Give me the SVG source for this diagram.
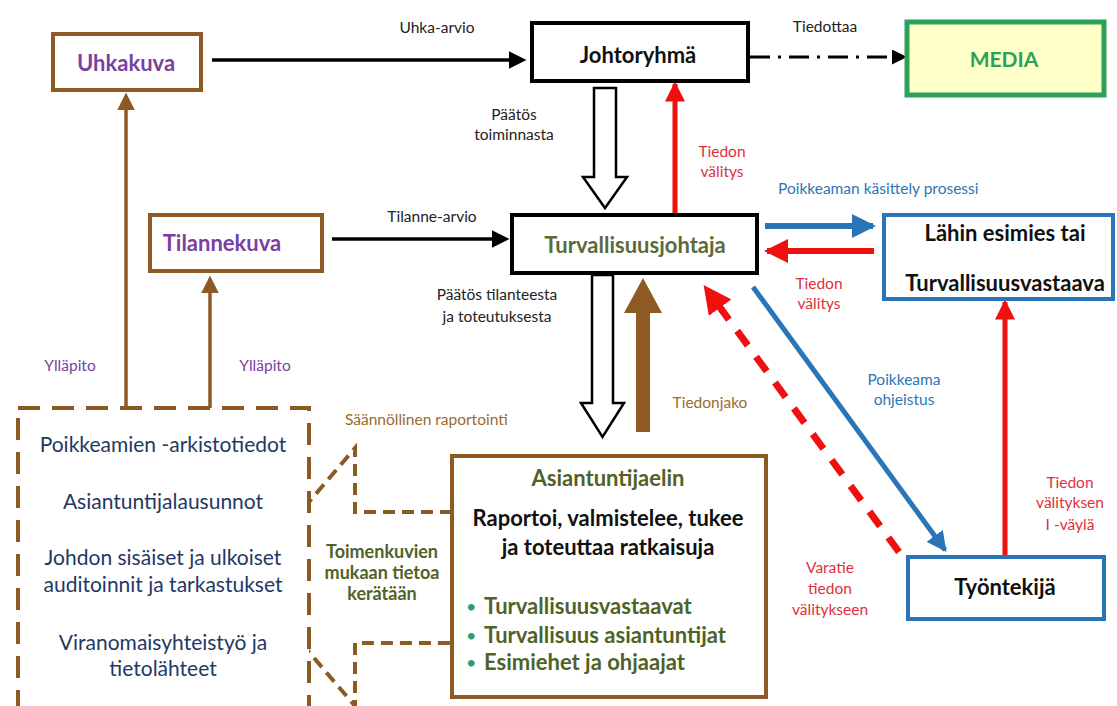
<svg xmlns="http://www.w3.org/2000/svg" width="1117" height="706" viewBox="0 0 1117 706">
<defs>
<style>
text{font-family:Lato,"Liberation Sans",sans-serif;}
.lbl{font-size:15.5px;fill:#222;}
.nb{font-weight:bold;text-anchor:middle;font-size:22px;}
.c{text-anchor:middle;}
.red{fill:#E0303A;}
.blue{fill:#2E75B6;}
.brn{fill:#9C6A2E;}
.pur{fill:#7A3FA0;font-size:15.5px;}
.navy{fill:#1F3864;font-size:21px;text-anchor:middle;}
.olive{fill:#4F6228;}
.box{fill:#fff;stroke-width:4;}
</style>
<marker id="mBlack" markerWidth="5" markerHeight="5" refX="4" refY="2.5" orient="auto" markerUnits="strokeWidth"><path d="M0,0 L5,2.5 L0,5 z" fill="#000"/></marker>
<marker id="mRed" markerWidth="4" markerHeight="4" refX="3.5" refY="2" orient="auto" markerUnits="strokeWidth"><path d="M0,0 L4,2 L0,4 z" fill="#F01010"/></marker>
<marker id="mRedD" markerWidth="4" markerHeight="4" refX="1" refY="2" orient="auto" markerUnits="strokeWidth"><path d="M0,0 L4,2 L0,4 z" fill="#F01010"/></marker>
<marker id="mBlue" markerWidth="4" markerHeight="4" refX="3.5" refY="2" orient="auto" markerUnits="strokeWidth"><path d="M0,0 L4,2 L0,4 z" fill="#2A74B8"/></marker>
<marker id="mBrown" markerWidth="5" markerHeight="5" refX="4" refY="2.5" orient="auto" markerUnits="strokeWidth"><path d="M0,0 L5,2.5 L0,5 z" fill="#8E5A24"/></marker>
</defs>
<rect width="1117" height="706" fill="#fff"/>

<g id="connectors">
  <path d="M452,512 H355 V448 L245,577 L355,706 V643 H452" fill="#fff" stroke="#8E5A24" stroke-width="4" stroke-dasharray="12 7"/>
  <line x1="212" y1="60" x2="523" y2="60" stroke="#000" stroke-width="3.5" marker-end="url(#mBlack)"/>
  <line x1="332" y1="239" x2="506" y2="239" stroke="#000" stroke-width="3.5" marker-end="url(#mBlack)"/>
  <line x1="750" y1="57" x2="904" y2="57" stroke="#000" stroke-width="3" stroke-dasharray="20 8 3 8" marker-end="url(#mBlack)"/>
  <path d="M594,88 H616 V177 H627 L605,208 L583,177 H594 Z" fill="#fff" stroke="#000" stroke-width="2.5"/>
  <path d="M592,275 H613 V403 H624 L602.5,437 L581,403 H592 Z" fill="#fff" stroke="#000" stroke-width="2.5"/>
  <path d="M636,432 V313 H624 L643,278 L662,313 H650 V432 Z" fill="#8E5A24"/>
  <line x1="675" y1="215" x2="675" y2="84" stroke="#F01010" stroke-width="5" marker-end="url(#mRed)"/>
  <line x1="765" y1="226" x2="873" y2="226" stroke="#2A74B8" stroke-width="6" marker-end="url(#mBlue)"/>
  <line x1="874" y1="251" x2="767" y2="251" stroke="#F01010" stroke-width="6" marker-end="url(#mRed)"/>
  <line x1="753" y1="287" x2="945" y2="550" stroke="#2A74B8" stroke-width="5" marker-end="url(#mBlue)"/>
  <line x1="899" y1="552" x2="716" y2="302" stroke="#F01010" stroke-width="7" stroke-dasharray="18 14" marker-end="url(#mRedD)"/>
  <line x1="1005" y1="557" x2="1005" y2="302" stroke="#F01010" stroke-width="5" marker-end="url(#mRed)"/>
  <line x1="126" y1="408" x2="126" y2="96" stroke="#8E5A24" stroke-width="3.5" marker-end="url(#mBrown)"/>
  <line x1="210" y1="408" x2="210" y2="279" stroke="#8E5A24" stroke-width="3.5" marker-end="url(#mBrown)"/>
</g>

<g id="sources">
  <rect x="18" y="408" width="291" height="320" fill="#fff" stroke="#8E5A24" stroke-width="4" stroke-dasharray="22 12"/>
  <text class="navy" x="163" y="452">Poikkeamien -arkistotiedot</text>
  <text class="navy" x="163" y="509">Asiantuntijalausunnot</text>
  <text class="navy" x="163" y="565">Johdon sisäiset ja ulkoiset</text>
  <text class="navy" x="163" y="592">auditoinnit ja tarkastukset</text>
  <text class="navy" x="163" y="650">Viranomaisyhteistyö ja</text>
  <text class="navy" x="163" y="676">tietolähteet</text>
</g>

<g id="uhkakuva">
  <rect class="box" x="53" y="34" width="148" height="56" stroke="#8E5A24"/>
  <text class="nb" x="126" y="71" fill="#7A3FA0">Uhkakuva</text>
</g>
<g id="tilannekuva">
  <rect class="box" x="150" y="215" width="172" height="56" stroke="#8E5A24"/>
  <text class="nb" x="222" y="251" fill="#7A3FA0">Tilannekuva</text>
</g>
<g id="johtoryhma">
  <rect class="box" x="532" y="23" width="216" height="58" stroke="#000"/>
  <text class="nb" x="638" y="63" fill="#111">Johtoryhmä</text>
</g>
<g id="media">
  <rect x="907" y="22" width="197" height="73" fill="#FFFFC8" stroke="#2DA158" stroke-width="5"/>
  <text class="nb" x="1004" y="67" fill="#2DA158" style="font-size:21px">MEDIA</text>
</g>
<g id="turvallisuusjohtaja">
  <rect class="box" x="512" y="215" width="245" height="58" stroke="#000"/>
  <text class="nb" x="635" y="253" fill="#5A6B3A">Turvallisuusjohtaja</text>
</g>
<g id="lahin">
  <rect class="box" x="884" y="215" width="229" height="84" stroke="#2A74B8"/>
  <text class="nb" x="1005" y="241" fill="#111">Lähin esimies tai</text>
  <text class="nb" x="1005" y="291" fill="#111">Turvallisuusvastaava</text>
</g>
<g id="asiantuntijaelin">
  <rect class="box" x="452" y="456" width="314" height="241" stroke="#8E5A24"/>
  <text class="nb olive" x="608" y="486">Asiantuntijaelin</text>
  <text class="nb" x="608" y="526" fill="#111">Raportoi, valmistelee, tukee</text>
  <text class="nb" x="608" y="555" fill="#111">ja toteuttaa ratkaisuja</text>
  <text x="466" y="613" font-size="18" fill="#2E9E6E">•</text>
  <text x="484" y="614" font-size="22" font-weight="bold" class="olive">Turvallisuusvastaavat</text>
  <text x="466" y="642" font-size="18" fill="#2E9E6E">•</text>
  <text x="484" y="643" font-size="22" font-weight="bold" class="olive">Turvallisuus asiantuntijat</text>
  <text x="466" y="669" font-size="18" fill="#2E9E6E">•</text>
  <text x="484" y="670" font-size="22" font-weight="bold" class="olive">Esimiehet ja ohjaajat</text>
</g>
<g id="tyontekija">
  <rect class="box" x="908" y="557" width="196" height="62" stroke="#2A74B8"/>
  <text class="nb" x="1005" y="595" fill="#111">Työntekijä</text>
</g>

<g id="labels">
  <text class="lbl c" x="437" y="33">Uhka-arvio</text>
  <text class="lbl c" x="825" y="32">Tiedottaa</text>
  <text class="lbl c" x="514" y="120">Päätös</text>
  <text class="lbl c" x="514" y="140">toiminnasta</text>
  <text class="lbl c red" x="722" y="157">Tiedon</text>
  <text class="lbl c red" x="722" y="177">välitys</text>
  <text class="lbl blue" x="778" y="194">Poikkeaman käsittely prosessi</text>
  <text class="lbl c" x="432" y="222">Tilanne-arvio</text>
  <text class="lbl c red" x="819" y="289">Tiedon</text>
  <text class="lbl c red" x="819" y="309">välitys</text>
  <text class="lbl c" x="497" y="300">Päätös tilanteesta</text>
  <text class="lbl c" x="497" y="322">ja toteutuksesta</text>
  <text class="pur c" x="70" y="371">Ylläpito</text>
  <text class="pur c" x="265" y="371">Ylläpito</text>
  <text class="lbl brn" x="345" y="425">Säännöllinen raportointi</text>
  <text class="lbl brn c" x="710" y="408">Tiedonjako</text>
  <text class="lbl c blue" x="904" y="385">Poikkeama</text>
  <text class="lbl c blue" x="904" y="405">ohjeistus</text>
  <text class="lbl c red" x="1070" y="488">Tiedon</text>
  <text class="lbl c red" x="1070" y="508">välityksen</text>
  <text class="lbl c red" x="1070" y="530">I -väylä</text>
  <text class="lbl c red" x="830" y="573">Varatie</text>
  <text class="lbl c red" x="830" y="594">tiedon</text>
  <text class="lbl c red" x="830" y="615">välitykseen</text>
  <text class="c olive" x="382" y="558" font-size="18" font-weight="bold">Toimenkuvien</text>
  <text class="c olive" x="382" y="579" font-size="18" font-weight="bold">mukaan tietoa</text>
  <text class="c olive" x="382" y="600" font-size="18" font-weight="bold">kerätään</text>
</g>
</svg>
